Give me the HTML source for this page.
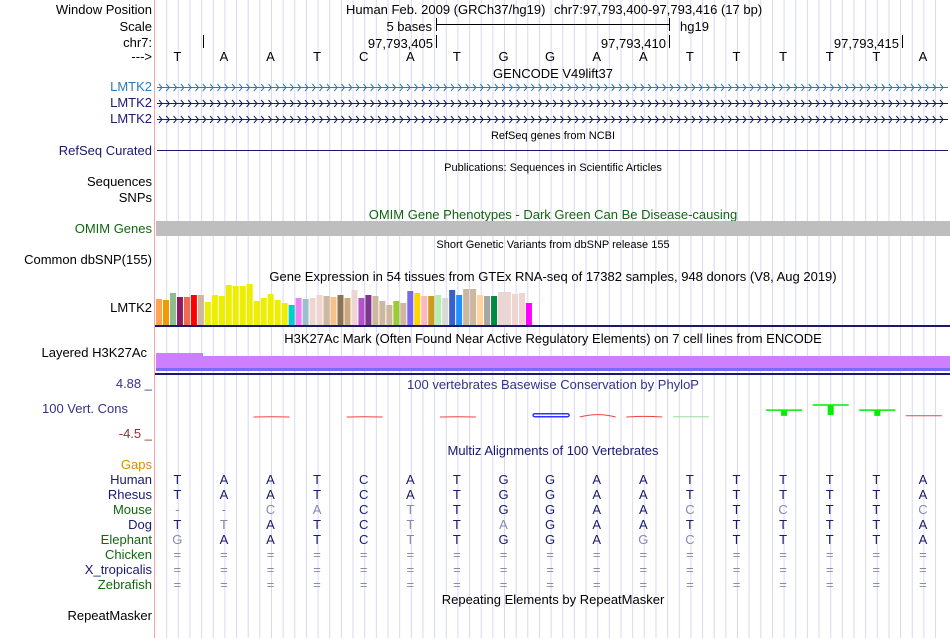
<!DOCTYPE html>
<html><head><meta charset="utf-8"><style>
html,body{margin:0;padding:0;background:#fff;}
svg{display:block;font-family:"Liberation Sans",sans-serif;}
</style></head><body>
<svg id="c" width="950" height="638" viewBox="0 0 950 638" xmlns="http://www.w3.org/2000/svg">
<g id="grid"></g>
<line x1="154.5" y1="0" x2="154.5" y2="638" stroke="#f4a4a4" stroke-width="1"/>
<g font-size="13" text-anchor="end">
<text x="152" y="14" fill="#000">Window Position</text>
<text x="152" y="31" fill="#000">Scale</text>
<text x="152" y="47" fill="#000">chr7:</text>
<text x="152" y="61" fill="#000">---&gt;</text>
<text x="152" y="91" fill="#2a7ab8">LMTK2</text>
<text x="152" y="107" fill="#191970">LMTK2</text>
<text x="152" y="123" fill="#191970">LMTK2</text>
<text x="152" y="155" fill="#191970">RefSeq Curated</text>
<text x="152" y="186" fill="#000">Sequences</text>
<text x="152" y="202" fill="#000">SNPs</text>
<text x="152" y="233" fill="#116611">OMIM Genes</text>
<text x="152" y="264" fill="#000">Common dbSNP(155)</text>
<text x="152" y="312" fill="#000">LMTK2</text>
<text x="147" y="357" fill="#000">Layered H3K27Ac</text>
<text x="152" y="388" fill="#333388">4.88 _</text>
<text x="128" y="413" fill="#333388">100 Vert. Cons</text>
<text x="152" y="438" fill="#883333">-4.5 _</text>
<text x="152" y="469" fill="#e08a00">Gaps</text>
<text x="152" y="484" fill="#191970">Human</text>
<text x="152" y="499" fill="#191970">Rhesus</text>
<text x="152" y="514" fill="#116611">Mouse</text>
<text x="152" y="529" fill="#191970">Dog</text>
<text x="152" y="544" fill="#116611">Elephant</text>
<text x="152" y="559" fill="#116611">Chicken</text>
<text x="152" y="574" fill="#191970">X_tropicalis</text>
<text x="152" y="589" fill="#116611">Zebrafish</text>
<text x="152" y="620" fill="#000">RepeatMasker</text>
</g>
<g font-size="13">
<text x="346" y="14">Human Feb. 2009 (GRCh37/hg19)</text>
<text x="554" y="14">chr7:97,793,400-97,793,416 (17 bp)</text>
<text x="432" y="31" text-anchor="end">5 bases</text>
<line x1="436" y1="24.5" x2="669" y2="24.5" stroke="#000"/>
<line x1="436.5" y1="18" x2="436.5" y2="31" stroke="#000"/>
<line x1="669.5" y1="18" x2="669.5" y2="31" stroke="#000"/>
<text x="680" y="31">hg19</text>
<line x1="203.5" y1="35" x2="203.5" y2="48" stroke="#000"/>
<text x="433" y="48" text-anchor="end">97,793,405</text>
<line x1="436.5" y1="35" x2="436.5" y2="48" stroke="#000"/>
<text x="666" y="48" text-anchor="end">97,793,410</text>
<line x1="669.5" y1="35" x2="669.5" y2="48" stroke="#000"/>
<text x="899" y="48" text-anchor="end">97,793,415</text>
<line x1="902.5" y1="35" x2="902.5" y2="48" stroke="#000"/>
<g id="bases"></g>
</g>
<g font-size="13" text-anchor="middle">
<text x="553" y="78">GENCODE V49lift37</text>
<text x="553" y="139" font-size="11">RefSeq genes from NCBI</text>
<text x="553" y="171" font-size="11">Publications: Sequences in Scientific Articles</text>
<text x="553" y="219" fill="#116611">OMIM Gene Phenotypes - Dark Green Can Be Disease-causing</text>
<text x="553" y="248" font-size="11">Short Genetic Variants from dbSNP release 155</text>
<text x="553" y="281">Gene Expression in 54 tissues from GTEx RNA-seq of 17382 samples, 948 donors (V8, Aug 2019)</text>
<text x="553" y="343">H3K27Ac Mark (Often Found Near Active Regulatory Elements) on 7 cell lines from ENCODE</text>
<text x="553" y="389" fill="#333388">100 vertebrates Basewise Conservation by PhyloP</text>
<text x="553" y="455" fill="#191970">Multiz Alignments of 100 Vertebrates</text>
<text x="553" y="604">Repeating Elements by RepeatMasker</text>
</g>
<g id="gencode"></g>
<line x1="157" y1="150.5" x2="948" y2="150.5" stroke="#191970"/>
<rect x="156" y="221" width="794" height="15" fill="#bebebe"/>
<g id="gtex"></g>
<rect x="155" y="325" width="795" height="2" fill="#191970"/>
<g>
<path d="M156,370 L156,353 L203,353 L203,356 L950,356 L950,370 Z" fill="#cc80ff"/>
<rect x="156" y="368" width="794" height="3" fill="#7a6bff"/>
<rect x="155" y="373" width="795" height="2" fill="#191970"/>
</g>
<g id="phylop"></g>
<g id="multiz" font-size="13" text-anchor="middle"></g>
</svg>
<script>
const bases = ["T","A","A","T","C","A","T","G","G","A","A","T","T","T","T","T","A"];
const gtexHeights = [26,25,32,28,28,30,30,23,30,29,40,39,39,41,24,27,31,25,22,20,27,26,27,30,29,28,30,27,35,27,30,29,24,20,24,22,34,32,29,29,30,27,35,30,36,36,30,29,29,33,33,31,32,22];
const gtexColors = ["#FFA54F","#EE9A00","#8FBC8F","#8B1C62","#EE6A50","#FF0000","#CDB79E","#EEEE00","#EEEE00","#EEEE00","#EEEE00","#EEEE00","#EEEE00","#EEEE00","#EEEE00","#EEEE00","#EEEE00","#EEEE00","#EEEE00","#00CDCD","#EE82EE","#9AC0CD","#EED5D2","#EED5D2","#CDB79E","#F4C28A","#8B7355","#CDAA7D","#EED5D2","#B452CD","#7A378B","#CDB79E","#CDB79E","#CDB79E","#9ACD32","#CDB79E","#7B68EE","#FFD700","#FFB6C1","#CD9B1D","#B4EEB4","#D9D9D9","#3A5FCD","#1E90FF","#CDB79E","#CDB79E","#FFD39B","#A6A6A6","#008B45","#EED5D2","#EED5D2","#EED5D2","#EED5D2","#FF00FF"];
const phylopValues = [0,0,-0.05,0,-0.05,0,-0.05,0,0.3,-0.4,-0.1,0.05,0,1.15,2.0,1.15,0.2];
const mouseRow = ["-","-","C","A","C","T","T","G","G","A","A","C","T","C","T","T","C"];
const dogRow = ["T","T","A","T","C","T","T","A","G","A","A","T","T","T","T","T","A"];
const elephantRow = ["G","A","A","T","C","T","T","G","G","A","G","C","T","T","T","T","A"];

const NS="http://www.w3.org/2000/svg";
const X0=155, BW=46.6;
const bx = i => X0 + BW*(i+0.5);
function mk(tag, attrs, parent){const e=document.createElementNS(NS,tag);for(const k in attrs)e.setAttribute(k,attrs[k]);parent.appendChild(e);return e;}
// grid
const grid=document.getElementById('grid');
for(let k=1;k<68;k++){const x=X0+k*BW/4;const l=mk('line',{x1:x,y1:0,x2:x,y2:638,stroke:'#d8d8f2','stroke-width':1},grid);

}
// gencode
const gc=document.getElementById('gencode');
[[87.5,'#2a7ab8'],[103.5,'#191970'],[119.5,'#191970']].forEach(([y,col])=>{
  let d=`M157,${y} L948,${y} `;
  for(let x=159;x<946;x+=7.3){d+=`M${x.toFixed(1)},${y-3.5} L${(x+3).toFixed(1)},${y} L${x.toFixed(1)},${y+3.5} `;}
  const p=mk('path',{d:d,fill:'none',stroke:col,'stroke-width':1},gc);
  
  
});
// bases
const bg=document.getElementById('bases');
bases.forEach((b,i)=>{const t=mk('text',{x:bx(i)-1,y:61,'text-anchor':'middle'},bg);t.textContent=b;

});
// gtex
const gt=document.getElementById('gtex');
const gBase=325, gPitch=6.98, gScale=1;
const gy = v => gBase - v*gScale;
gtexHeights.forEach((h,i)=>{const r=mk('rect',{x:156+i*gPitch,y:gy(h),width:6,height:gBase-gy(h),fill:gtexColors[i]},gt);

});
// phylop
const ph=document.getElementById('phylop');
const pZero=417, pScale=6;
const py = v => pZero - v*pScale;
phylopValues.forEach((v,i)=>{ if(v===0) return;
  const x1=bx(i)-18, x2=bx(i)+18;
  if(v>=0.5){
    const l=mk('line',{x1:x1,y1:py(v),x2:x2,y2:py(v),stroke:'#00ee00','stroke-width':1.5},ph);
    
    
    const r=mk('rect',{x:bx(i)-3,y:py(v),width:6,height:v*5,fill:'#00ee00'},ph);
    
    
  } else if(v>=0.25){
    const r=mk('rect',{x:x1,y:py(v)-1.5,width:36,height:3,rx:1.5,fill:'none',stroke:'#3333ff','stroke-width':1.5},ph);
    
    
  } else if(v>0){
    const l=mk('line',{x1:x1,y1:py(v),x2:x2,y2:py(v),stroke:i===16?'#ee4444':'#99dd99','stroke-width':1},ph);
    
    
  } else {
    const l=mk('path',{d:`M${x1},${pZero} Q${bx(i)},${pZero+v*12} ${x2},${pZero}`,fill:'none',stroke:'#ee4444','stroke-width':1},ph);
    
    
  }
});
// multiz
const mz=document.getElementById('multiz');
const rows=[[bases,484],[bases,499],[mouseRow,514],[dogRow,529],[elephantRow,544]];
rows.forEach(([row,y])=>{row.forEach((b,i)=>{const same=(b===bases[i]);
 const t=mk('text',{x:bx(i)-1,y:y,fill:same?'#191970':'#8888b0'},mz);t.textContent=b;
 
 });});
[559,574,589].forEach(y=>{bases.forEach((b,i)=>{const t=mk('text',{x:bx(i)-1,y:y,fill:'#8888b0'},mz);t.textContent='=';
 
 });});
</script>
</body></html>
